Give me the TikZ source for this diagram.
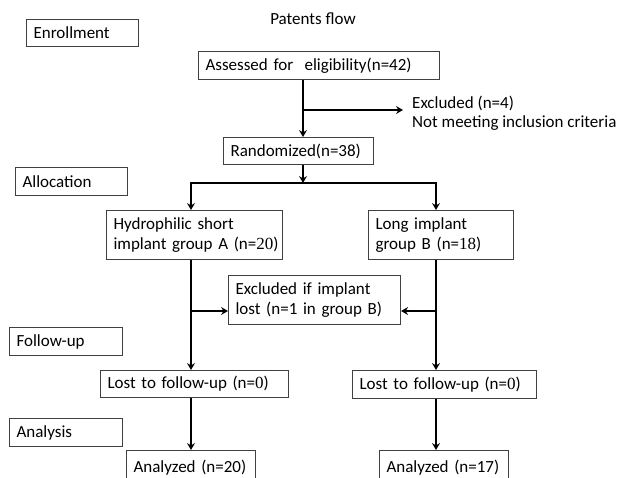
\documentclass[tikz,border=0pt]{standalone}
\usepackage{fontspec}
\setmainfont{Carlito}
\newfontfamily\numfont{Liberation Serif}
\usetikzlibrary{arrows.meta}

\begin{document}
\begin{tikzpicture}[x=1pt,y=-1pt,
		font=\fontsize{17}{20}\selectfont,
		box/.style={draw=black!75,line width=1.1pt,anchor=north west,inner xsep=7pt,inner ysep=0pt,align=left},
		arr/.style={draw=black,line width=1.5pt,-{Stealth[length=7pt,width=8pt,inset=2.5pt]}},
		link/.style={draw=black,line width=1.5pt}]
			\useasboundingbox (0,0) rectangle (618,477);
			\clip (0,0) rectangle (618,477);
			%
			\node at (313,19) (title) {Patents flow};
			% stage labels
			\node[box,text width=98pt,minimum height=27pt] at (26,19) (enroll) {Enrollment};
			\node[box,text width=98pt,minimum height=28pt] at (15,167) (alloc) {Allocation};
			\node[box,text width=99pt,minimum height=28pt] at (9,327) (follow) {Follow-up};
			\node[box,text width=99pt,minimum height=28pt] at (9,418) (analysis) {Analysis};
			% flow boxes
			\node[box,text width=227pt,minimum height=28pt] at (198,51) (assess) {Assessed for\ \ eligibility(n=42)};
			\node[box,text width=136pt,minimum height=27pt] at (223,137) (random) {Randomized(n=38)};
			\node[box,text width=162pt,minimum height=49pt] at (106,210) (grpA) {Hydrophilic short\\\mbox{implant group A (n={\numfont 20})}};
			\node[box,text width=131pt,minimum height=49pt] at (368,210) (grpB) {Long implant\\\mbox{group B (n={\numfont 18})}};
			\node[box,text width=158pt,minimum height=49pt] at (228,275) (exclif) {Excluded if implant\\\mbox{lost (n=1 in group B)}};
			\node[box,text width=174pt,minimum height=27pt] at (100,370) (lostA) {\mbox{Lost to follow-up (n={\numfont 0})}};
			\node[box,text width=170pt,minimum height=28pt] at (352,370) (lostB) {\mbox{Lost to follow-up (n={\numfont 0})}};
			\node[box,text width=115pt,minimum height=34pt] at (126,450) (anaA) {Analyzed (n=20)};
			\node[box,text width=115pt,minimum height=34pt] at (379,450) (anaB) {Analyzed (n=17)};
			\node[anchor=west,inner xsep=9pt,inner ysep=0pt,align=left] at (403,113) (excl) {Excluded (n=4)\\[-1pt]Not meeting inclusion criteria};
			%
			\coordinate (split) at (303,110);
			\coordinate (fork) at (303,183);
			\coordinate (colA) at (191,0);
			\coordinate (colB) at (436,0);
			\coordinate (tapA) at (191,311);
			\coordinate (tapB) at (436,311);
			%
			\draw[link] (assess.south -| split) -- (split);
			\draw[arr] (split) -- (random.north -| split);
			\draw[arr] (split) -- (split -| excl.west);
			\draw[arr] (random.south -| split) -- (fork);
			\draw[arr] (fork) -| (grpA.north -| colA);
			\draw[arr] (fork) -| (grpB.north -| colB);
			\draw[arr] (grpA.south -| colA) -- (lostA.north -| colA);
			\draw[arr] (grpB.south -| colB) -- (lostB.north -| colB);
			\draw[arr] (tapA) -- (exclif.west |- tapA);
			\draw[arr] (tapB) -- (exclif.east |- tapB);
			\draw[arr] (lostA.south -| colA) -- (anaA.north -| colA);
			\draw[arr] (lostB.south -| colB) -- (anaB.north -| colB);
		\end{tikzpicture}
\end{document}
